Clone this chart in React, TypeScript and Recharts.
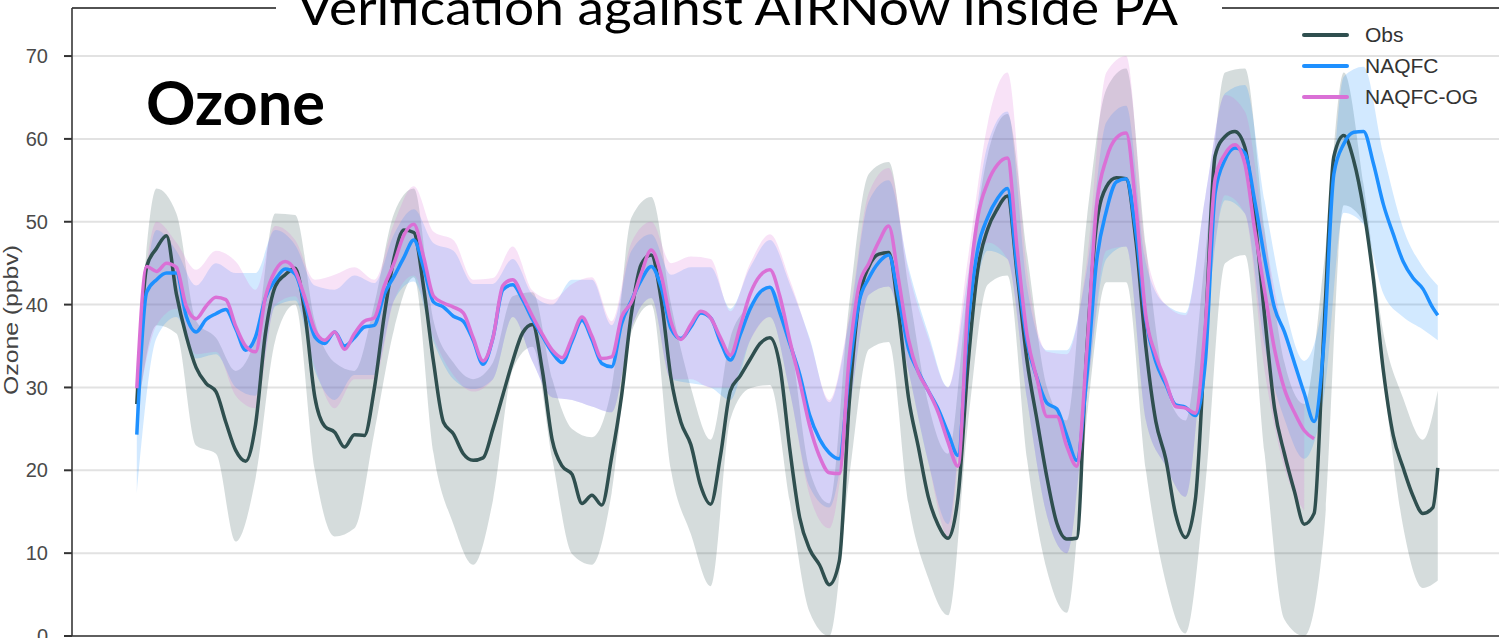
import { ComposedChart, Line, Area, XAxis, YAxis, CartesianGrid, ReferenceLine, Legend } from "recharts";

const chartTitle = "Verification against AIRNow inside PA";
const panelLabel = "Ozone";
const yAxisLabel = "Ozone (ppbv)";

const seriesNames = ["Obs", "NAQFC", "NAQFC-OG"];
const seriesColors = ["#2f4f4f", "#1e90ff", "#da70d6"];

// hours since first sample (lines hourly data thinned to 2 h, spreads to 4 h)
const lineHours = [...Array.from({ length: 132 }, (_, i) => i * 2), 263];
const bandHours = [...Array.from({ length: 66 }, (_, i) => i * 4), 263];
const dayTicks = [11, 59, 107, 155, 203, 251];
const yTicks = [0, 10, 20, 30, 40, 50, 60, 70];

const X_DOMAIN = [-13.1, 277.6];
const Y_MAX = 75.8;

const obsValues = [
  28.0, 44.6, 46.8, 48.3, 41.3, 36.2, 32.4, 30.5, 29.5, 25.8,
  22.4, 21.1, 25.5, 36.5, 42.2, 43.6, 44.4, 38.8, 28.8, 25.3,
  24.6, 22.8, 24.3, 24.2, 29.8, 38.6, 45.6, 49.0, 48.7, 42.0,
  33.0, 25.8, 24.4, 22.0, 21.2, 21.5, 25.0, 29.1, 33.2, 36.6,
  37.6, 32.0, 23.6, 20.5, 19.5, 16.0, 17.0, 15.8, 21.6, 29.0,
  39.0, 44.9, 46.0, 40.6, 31.1, 25.8, 23.1, 18.1, 15.9, 21.8,
  29.6, 31.4, 33.4, 35.3, 36.0, 32.6, 22.6, 14.3, 10.5, 8.6,
  6.2, 9.0, 28.0, 40.5, 44.6, 46.1, 46.3, 39.0, 28.8, 22.8,
  16.8, 13.4, 11.8, 16.7, 32.5, 44.2, 49.1, 51.6, 53.1, 43.5,
  33.1, 26.0, 19.1, 13.6, 11.7, 11.8, 34.0, 49.6, 54.2, 55.3,
  55.2, 47.6, 34.8, 25.9, 21.4, 14.7, 11.9, 16.5, 36.5, 58.0,
  60.3, 60.9, 59.0, 50.5, 38.6, 27.5, 22.0, 17.5, 13.5, 14.8,
  37.0, 57.9, 60.4, 57.4, 51.5, 43.0, 32.0, 24.2, 20.3, 16.9,
  14.8, 15.5, 20.3,
];

const naqfcValues = [
  24.3, 41.5, 43.0, 43.8, 43.8, 38.6, 36.7, 38.2, 38.9, 39.4,
  37.1, 34.5, 36.1, 40.8, 43.0, 44.3, 43.7, 40.2, 36.1, 35.3,
  36.7, 35.0, 36.0, 37.3, 37.5, 41.2, 43.4, 45.7, 47.8, 44.4,
  40.3, 39.7, 38.6, 38.0, 35.7, 32.8, 36.0, 41.8, 42.4, 40.6,
  38.2, 36.2, 34.2, 33.0, 35.6, 38.1, 35.8, 32.9, 32.5, 37.7,
  40.5, 43.0, 44.6, 42.1, 37.1, 35.9, 37.3, 39.0, 38.4, 35.5,
  33.3, 36.4, 39.5, 41.5, 42.1, 39.0, 35.3, 31.6, 26.7, 23.8,
  22.1, 21.4, 31.8, 40.3, 43.2, 45.1, 46.0, 40.8, 34.7, 31.9,
  29.6, 27.4, 24.5, 21.8, 37.3, 46.7, 50.5, 52.8, 54.0, 44.2,
  35.4, 31.1, 28.1, 27.4, 24.2, 21.2, 31.0, 45.1, 51.3, 54.8,
  55.2, 48.6, 38.1, 33.1, 30.4, 27.9, 27.6, 26.6, 33.0, 53.5,
  57.5, 58.9, 58.3, 52.5, 45.6, 39.6, 36.7, 33.0, 29.3, 25.9,
  35.5, 55.8, 59.4, 60.8, 60.9, 57.0, 52.1, 48.5, 45.2, 43.2,
  41.9, 39.6, 38.7,
];

const ogValues = [
  29.9, 44.6, 44.0, 45.0, 44.5, 39.8, 38.3, 39.8, 40.9, 40.6,
  37.4, 35.0, 34.3, 40.9, 44.1, 45.2, 44.1, 40.8, 36.9, 35.7,
  36.7, 34.6, 36.5, 38.0, 38.4, 42.2, 45.0, 48.4, 49.7, 45.7,
  41.0, 40.2, 39.7, 39.0, 36.0, 33.2, 36.0, 42.3, 43.0, 41.0,
  38.6, 36.4, 34.5, 33.6, 36.0, 38.5, 36.2, 33.5, 33.7, 38.5,
  40.3, 43.8, 46.6, 43.6, 37.9, 35.8, 37.6, 39.2, 38.4, 36.0,
  33.9, 37.4, 41.3, 43.5, 44.2, 41.0, 35.7, 30.8, 25.4, 21.7,
  19.7, 19.6, 33.5, 42.3, 45.0, 47.6, 49.5, 43.0, 35.8, 31.8,
  29.6, 27.0, 23.4, 20.5, 40.0, 50.5, 54.7, 56.9, 57.7, 46.5,
  36.2, 31.0, 26.5, 26.5, 22.9, 20.5, 34.0, 51.8, 57.6, 60.1,
  60.7, 51.6, 38.6, 33.9, 30.8, 27.7, 27.5, 26.9, 37.5, 55.2,
  58.2, 59.3, 57.0, 49.0, 41.6, 34.6, 29.8, 27.0, 24.8, 23.8,
];

// spread (min / max) across sites
const obsLow = [
  26.0, 37.5, 36.5, 23.0, 22.0, 11.4, 19.0, 35.7, 40.0, 20.0,
  12.0, 13.0, 24.5, 37.0, 43.3, 22.0, 13.5, 8.6, 16.4, 32.2,
  34.9, 21.4, 9.9, 8.6, 17.3, 36.7, 40.0, 20.0, 12.3, 6.0,
  26.2, 29.9, 30.3, 16.3, 2.9, 0.0, 19.0, 34.6, 35.5, 16.0,
  7.0, 2.5, 25.5, 42.4, 43.5, 21.2, 7.9, 2.8, 26.0, 42.7,
  42.7, 20.0, 6.5, 0.3, 18.0, 45.0, 46.0, 22.0, 2.0, 0.0,
  12.5, 52.0, 50.0, 31.0, 13.2, 5.8, 6.7,
];
const obsHigh = [
  31.0, 54.0, 51.0, 38.0, 36.0, 32.0, 36.0, 51.0, 50.8, 38.0,
  33.0, 32.0, 40.0, 51.0, 54.0, 38.0, 33.0, 31.0, 33.0, 41.0,
  41.5, 31.0, 25.0, 24.0, 30.0, 50.5, 53.0, 40.0, 30.0, 23.7,
  36.0, 40.0, 42.0, 36.0, 20.0, 16.0, 40.0, 55.8, 57.2, 42.0,
  28.0, 22.0, 42.0, 58.0, 63.0, 46.0, 30.0, 26.0, 50.0, 66.0,
  68.5, 47.0, 30.0, 26.0, 46.0, 68.0, 68.5, 49.0, 33.0, 28.0,
  45.0, 68.0, 54.5, 36.6, 28.7, 23.7, 29.6,
];
const naqfcLow = [
  17.2, 36.0, 38.5, 33.5, 34.0, 30.0, 29.0, 39.8, 40.5, 32.0,
  28.5, 31.5, 31.5, 40.5, 42.8, 35.5, 31.0, 29.8, 31.0, 38.5,
  33.1, 28.8, 28.5, 27.7, 27.0, 37.2, 40.8, 31.0, 30.5, 30.0,
  28.5, 35.7, 38.5, 29.5, 18.0, 15.5, 27.0, 41.2, 42.2, 32.0,
  21.0, 13.5, 35.0, 46.5, 45.5, 28.5, 14.5, 10.0, 28.7, 45.5,
  47.0, 26.0, 20.5, 16.8, 37.0, 52.6, 51.0, 35.0, 26.2, 21.4,
  29.0, 51.1, 49.7, 41.3, 38.5, 37.0, 35.7,
];
const naqfcHigh = [
  31.0, 49.0, 46.5, 42.3, 45.0, 43.8, 43.8, 49.0, 47.2, 42.3,
  41.8, 43.5, 42.6, 48.5, 51.5, 47.4, 46.5, 42.5, 42.5, 45.5,
  41.2, 40.0, 43.0, 43.0, 37.5, 46.5, 48.5, 43.6, 44.5, 44.5,
  39.5, 44.5, 47.8, 42.5, 36.0, 28.2, 38.0, 52.5, 55.0, 44.5,
  36.5, 30.0, 43.5, 59.3, 63.3, 42.0, 34.5, 34.5, 44.0, 62.0,
  64.0, 45.0, 40.0, 39.0, 53.0, 65.5, 66.5, 52.5, 40.0, 33.2,
  41.0, 67.5, 68.7, 58.2, 49.2, 44.5, 42.3,
];
const ogLow = [
  27.0, 37.5, 39.5, 34.0, 34.3, 29.0, 27.5, 40.0, 41.0, 32.5,
  27.5, 31.0, 31.0, 40.5, 43.5, 36.0, 31.5, 29.5, 31.0, 38.5,
  33.1, 28.8, 28.5, 27.7, 27.0, 37.2, 40.8, 31.0, 31.0, 30.0,
  30.0, 35.7, 38.5, 29.5, 17.0, 13.0, 27.0, 41.2, 42.2, 32.0,
  21.0, 12.0, 35.0, 47.5, 45.5, 28.5, 14.5, 10.0, 28.7, 46.5,
  47.0, 26.0, 20.5, 16.8, 37.0, 53.2, 51.0, 32.0, 20.3, 15.1,
];
const ogHigh = [
  33.0, 50.0, 47.5, 44.2, 46.5, 45.2, 41.8, 49.5, 47.8, 43.0,
  43.6, 44.5, 43.0, 49.8, 54.3, 48.8, 47.8, 43.0, 43.2, 47.0,
  41.7, 40.6, 42.5, 43.3, 38.0, 47.5, 50.0, 45.0, 45.8, 45.5,
  39.2, 45.0, 48.5, 43.0, 35.8, 28.5, 38.5, 53.5, 56.5, 44.0,
  36.0, 30.0, 45.5, 61.8, 68.0, 44.0, 34.3, 34.0, 45.0, 68.0,
  70.0, 46.5, 40.0, 38.7, 53.0, 65.3, 63.3, 48.5, 36.2, 29.5,
];

const toRows = (hours: number[], values: number[]) =>
  values.map((v, i) => ({ h: hours[i], v }));
const toBand = (hours: number[], lo: number[], hi: number[]) =>
  lo.map((l, i) => ({ h: hours[i], range: [l, hi[i]] }));

const lineSeries = [
  toRows(lineHours, obsValues),
  toRows(lineHours, naqfcValues),
  toRows(lineHours, ogValues),
];
const bandSeries = [
  toBand(bandHours, obsLow, obsHigh),
  toBand(bandHours, naqfcLow, naqfcHigh),
  toBand(bandHours, ogLow, ogHigh),
];

const tickFont = "'Liberation Sans', Arial, sans-serif";

const renderLegend = () => (
  <div style={{ fontFamily: tickFont }}>
    {seriesNames.map((name, i) => (
      <div key={name} style={{ display: "flex", alignItems: "center", height: 31 }}>
        <span
          style={{
            display: "inline-block",
            width: 47,
            height: 4,
            borderRadius: 2,
            background: seriesColors[i],
            marginRight: 16,
          }}
        />
        <span style={{ fontSize: 21, color: "#333" }}>{name}</span>
      </div>
    ))}
  </div>
);

export default function App() {
  return (
    <div
      style={{
        position: "absolute",
        left: 0,
        top: 0,
        width: 1499,
        height: 638,
        overflow: "hidden",
        background: "#fff",
      }}
    >
      <ComposedChart width={1510} height={666} margin={{ top: 8, right: 0, bottom: 0, left: 0 }}>
        <CartesianGrid stroke="#e2e2e2" strokeWidth={2} />
        <XAxis
          type="number"
          dataKey="h"
          domain={X_DOMAIN}
          ticks={dayTicks}
          allowDataOverflow
          height={30}
          tick={false}
          tickSize={6}
          tickLine={{ stroke: "#333" }}
          axisLine={{ stroke: "#333", strokeWidth: 1.5 }}
        />
        <YAxis
          type="number"
          domain={[0, Y_MAX]}
          ticks={yTicks}
          allowDataOverflow
          width={72}
          tickSize={8}
          tickMargin={16}
          tick={{ fill: "#4a4a4a", fontSize: 20, fontFamily: tickFont }}
          tickLine={{ stroke: "#333", strokeWidth: 2 }}
          axisLine={{ stroke: "#333", strokeWidth: 1.5 }}
        />
        <ReferenceLine y={Y_MAX} stroke="#222" strokeWidth={1.5} />

        {bandSeries.map((rows, i) => (
          <Area
            key={"band" + i}
            data={rows}
            dataKey="range"
            type="monotone"
            stroke="none"
            fill={seriesColors[i]}
            fillOpacity={0.2}
            isAnimationActive={false}
            legendType="none"
          />
        ))}
        {lineSeries.map((rows, i) => (
          <Line
            key={"line" + i}
            data={rows}
            dataKey="v"
            name={seriesNames[i]}
            type="monotone"
            stroke={seriesColors[i]}
            strokeWidth={3.5}
            strokeLinejoin="round"
            dot={false}
            activeDot={false}
            isAnimationActive={false}
          />
        ))}

        <Legend
          layout="vertical"
          align="center"
          verticalAlign="middle"
          wrapperStyle={{ left: 1302, top: 19.5, width: 190 }}
          content={renderLegend}
        />
      </ComposedChart>

      <svg
        width={1499}
        height={638}
        style={{ position: "absolute", left: 0, top: 0, pointerEvents: "none" }}
      >
        <rect x={276} y={0} width={946} height={50} fill="#fff" />
        <text
          x={297}
          y={25}
          fontFamily="Lato, sans-serif"
          fontSize={48}
          textLength={881}
          lengthAdjust="spacingAndGlyphs"
          fill="#000"
        >
          {chartTitle}
        </text>
        <text
          x={146}
          y={125}
          fontFamily="Lato, sans-serif"
          fontWeight={700}
          fontSize={61}
          textLength={179}
          lengthAdjust="spacingAndGlyphs"
          fill="#000"
        >
          {panelLabel}
        </text>
        <text
          transform="rotate(-90)"
          x={-320}
          y={18}
          textAnchor="middle"
          fontFamily={tickFont}
          fontSize={20}
          textLength={150}
          lengthAdjust="spacingAndGlyphs"
          fill="#444"
        >
          {yAxisLabel}
        </text>
      </svg>
    </div>
  );
}
